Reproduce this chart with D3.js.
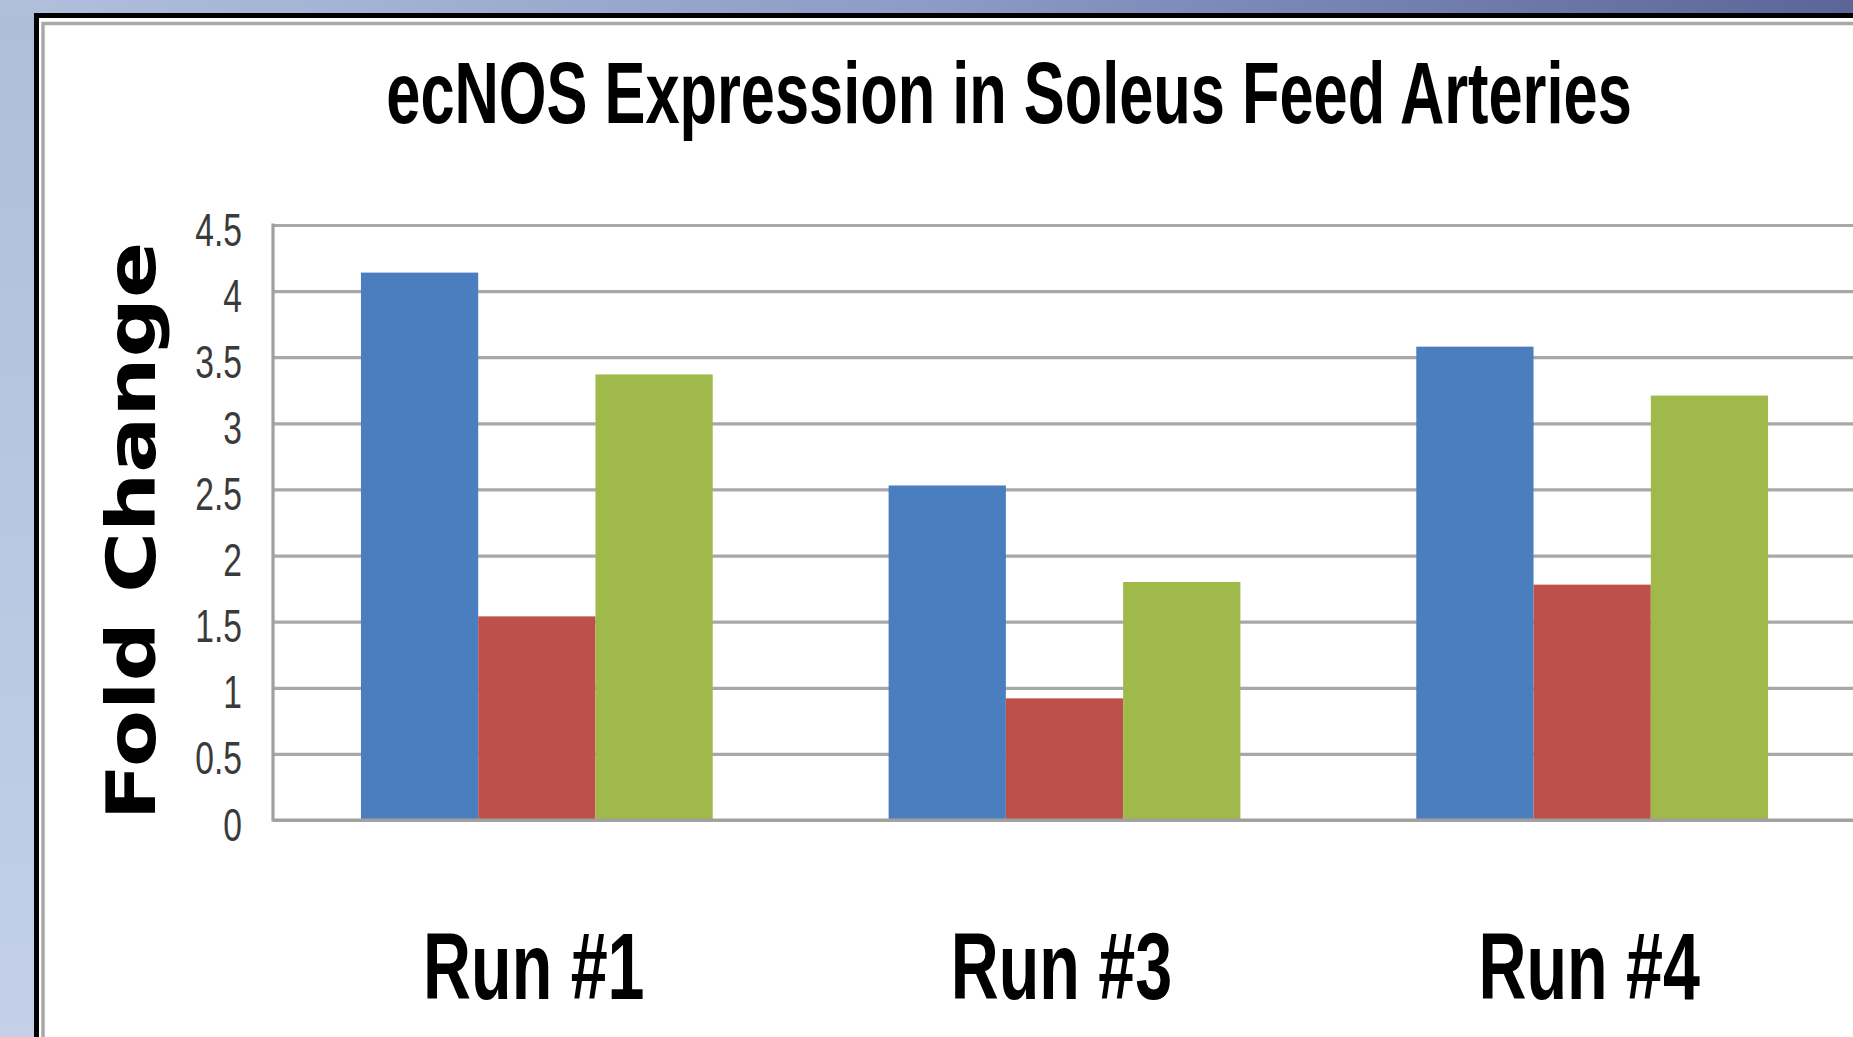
<!DOCTYPE html>
<html>
<head>
<meta charset="utf-8">
<script src="https://cdn.jsdelivr.net/npm/d3@7"></script>
<style>
  html, body { margin: 0; padding: 0; background: #ffffff; overflow: hidden; }
  svg { display: block; }
</style>
</head>
<body>
<svg id="chart" width="1853" height="1037"></svg>
<script>
// ---- data ----
const categories = ["Run #1", "Run #3", "Run #4"];
const seriesNames = ["Series 1", "Series 2", "Series 3"];
const series1 = [4.14, 2.53, 3.58];
const series2 = [1.54, 0.92, 1.78];
const series3 = [3.37, 1.80, 3.21];
const tickValues = [0, 0.5, 1, 1.5, 2, 2.5, 3, 3.5, 4, 4.5];
const tickLabels = ["0", "0.5", "1", "1.5", "2", "2.5", "3", "3.5", "4", "4.5"];
const titleText = "ecNOS Expression in Soleus Feed Arteries";
const yAxisTitle = "Fold Change";
const colors = ["#4A7EBF", "#BE504B", "#9FBA4B"];

const allSeries = [series1, series2, series3];
const rows = categories.map((c, i) => ({
  cat: c,
  vals: seriesNames.map((s, j) => ({ key: s, value: allSeries[j][i], idx: j }))
}));

const W = 1853, H = 1037;
const svg = d3.select("#chart");
const defs = svg.append("defs");

// background gradients
const gTop = defs.append("linearGradient").attr("id", "gTop")
  .attr("x1", "0").attr("y1", "0").attr("x2", "1").attr("y2", "0");
gTop.append("stop").attr("offset", "0").attr("stop-color", "#b2c0dc");
gTop.append("stop").attr("offset", "0.5").attr("stop-color", "#8d9bc6");
gTop.append("stop").attr("offset", "1").attr("stop-color", "#5b6598");
const gLeft = defs.append("linearGradient").attr("id", "gLeft")
  .attr("x1", "0").attr("y1", "0").attr("x2", "0").attr("y2", "1");
gLeft.append("stop").attr("offset", "0").attr("stop-color", "#afbddb");
gLeft.append("stop").attr("offset", "1").attr("stop-color", "#c3d0e8");

svg.append("rect").attr("x", 0).attr("y", 0).attr("width", 40).attr("height", H).attr("fill", "url(#gLeft)");
svg.append("rect").attr("x", 0).attr("y", 0).attr("width", W).attr("height", 18).attr("fill", "url(#gTop)");
svg.append("rect").attr("x", 0).attr("y", 0).attr("width", 40).attr("height", 18).attr("fill", "#b0bedb");

// frame
svg.append("rect").attr("x", 36.5).attr("y", 15.5).attr("width", 3000).attr("height", 3000)
  .attr("fill", "#ffffff").attr("stroke", "#000000").attr("stroke-width", 5);
svg.append("rect").attr("x", 43).attr("y", 23.5).attr("width", 3000).attr("height", 3000)
  .attr("fill", "none").attr("stroke", "#a9a9a9").attr("stroke-width", 3.5);

// scales
const x0 = d3.scaleBand().domain(categories).range([273, 1856])
  .paddingInner(1/3).paddingOuter(1/6);
const x1 = d3.scaleBand().domain(seriesNames).range([0, x0.bandwidth()]);
const y = d3.scaleLinear().domain([0, 4.5]).range([820, 225]);

// gridlines
const grid = svg.append("g").attr("transform", "translate(273,0)")
  .call(d3.axisLeft(y).tickValues(tickValues).tickSize(-1700).tickFormat(""));
grid.select(".domain").remove();
grid.selectAll(".tick line").attr("stroke", "#a8a8a8").attr("stroke-width", 3.2);

// bars
const groups = svg.append("g").selectAll("g").data(rows).join("g")
  .attr("transform", d => `translate(${x0(d.cat)},0)`);
groups.selectAll("rect").data(d => d.vals).join("rect")
  .attr("x", d => x1(d.key))
  .attr("width", x1.bandwidth())
  .attr("y", d => y(d.value))
  .attr("height", d => y(0) - y(d.value))
  .attr("fill", d => colors[d.idx]);

// left axis line & baseline
svg.append("line").attr("x1", 273).attr("x2", 273).attr("y1", y(4.5) - 1.5).attr("y2", y(0) + 1.5)
  .attr("stroke", "#a0a0a0").attr("stroke-width", 3.2);
svg.append("line").attr("x1", 273).attr("x2", W).attr("y1", y(0)).attr("y2", y(0))
  .attr("stroke", "#a0a0a0").attr("stroke-width", 3.2);

// y tick labels (condensed look via scale)
svg.append("g").selectAll("g").data(tickValues).join("g")
  .attr("transform", d => `translate(242,${y(d) + 4}) scale(0.82,1.12)`)
  .append("text")
  .attr("text-anchor", "end")
  .attr("dy", "0.36em")
  .attr("font-family", "'Liberation Sans', Arial, sans-serif")
  .attr("font-size", 41)
  .attr("fill", "#3a3a3a")
  .text((d, i) => tickLabels[i]);

// category labels
svg.append("g").selectAll("g").data(categories).join("g")
  .attr("transform", d => `translate(${x0(d) + x0.bandwidth() / 2 - 3},999) scale(0.82,1.16)`)
  .append("text")
  .attr("text-anchor", "middle")
  .attr("font-family", "'Liberation Sans', Arial, sans-serif")
  .attr("font-weight", "bold")
  .attr("font-size", 81)
  .attr("fill", "#000")
  .text(d => d);

// title
svg.append("g").attr("transform", "translate(1009,123) scale(0.818,1.16)")
  .append("text")
  .attr("text-anchor", "middle")
  .attr("font-family", "'Liberation Sans', Arial, sans-serif")
  .attr("font-weight", "bold")
  .attr("font-size", 75)
  .attr("fill", "#000")
  .text(titleText);

// y axis title
svg.append("text")
  .attr("transform", "translate(155,531) rotate(-90)")
  .attr("text-anchor", "middle")
  .attr("font-family", "'DejaVu Sans', Verdana, sans-serif")
  .attr("font-weight", "bold")
  .attr("font-size", 68)
  .attr("textLength", 579)
  .attr("lengthAdjust", "spacingAndGlyphs")
  .attr("fill", "#000")
  .text(yAxisTitle);
</script>
</body>
</html>
